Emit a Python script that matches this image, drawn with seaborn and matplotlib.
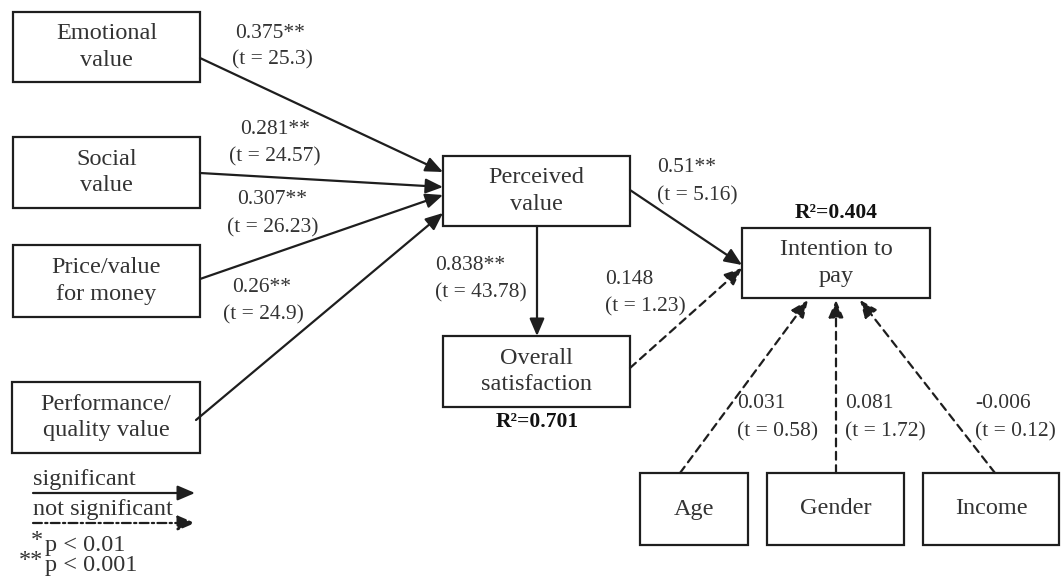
import matplotlib
matplotlib.use('Agg')
import matplotlib.pyplot as plt
import matplotlib.patches as mpatches
import seaborn as sns

sns.set_theme(style='white')
plt.rcParams['font.family'] = ['Liberation Serif', 'DejaVu Serif']

# --- data -------------------------------------------------------------
drivers = ['Emotional\nvalue', 'Social\nvalue', 'Price/value\nfor money', 'Performance/\nquality value']
driver_beta = ['0.375**', '0.281**', '0.307**', '0.26**']
driver_t = ['25.3', '24.57', '26.23', '24.9']

mediator = 'Perceived\nvalue'
satisfaction = 'Overall\nsatisfaction'
outcome = 'Intention to\npay'
controls = ['Age', 'Gender', 'Income']
control_beta = ['0.031', '0.081', '-0.006']
control_t = ['0.58', '1.72', '0.12']

pv_os_beta, pv_os_t = '0.838**', '43.78'
pv_ip_beta, pv_ip_t = '0.51**', '5.16'
os_ip_beta, os_ip_t = '0.148', '1.23'
r2_os = '0.701'
r2_ip = '0.404'

# --- layout (pixel space of the figure) -------------------------------
boxes = {
    drivers[0]: (13, 12, 200, 82),
    drivers[1]: (13, 137, 200, 208),
    drivers[2]: (13, 245, 200, 317),
    drivers[3]: (12, 382, 200, 453),
    mediator: (443, 156, 630, 226),
    satisfaction: (443, 336, 630, 407),
    outcome: (742, 228, 930, 298),
    controls[0]: (640, 473, 748, 545),
    controls[1]: (767, 473, 904, 545),
    controls[2]: (923, 473, 1059, 545),
}
driver_start = [(200, 58), (200, 173), (200, 279), (196, 420)]
driver_end = [(443, 172), (443, 187), (443, 195), (443, 213)]
driver_lab = [(270, 33, 272, 60), (275, 130, 275, 157), (272, 200, 273, 228), (262, 287, 263, 315)]
control_start = [(680, 473), (836, 473), (995, 473)]
control_end = [(808, 300), (836, 300), (860, 300)]
control_lab = [737, 845, 975]

TXT = '#333333'
LN = '#1e1e1e'
BOX_FS = 17.5
LAB_FS = 15.5

fig = plt.figure(figsize=(10.61, 5.77), dpi=100)
ax = fig.add_axes([0, 0, 1, 1])
ax.set_xlim(0, 1061)
ax.set_ylim(577, 0)
ax.set_axis_off()

for name, (x0, y0, x1, y1) in boxes.items():
    ax.add_patch(mpatches.Rectangle((x0, y0), x1 - x0, y1 - y0, fill=False,
                                    edgecolor=LN, linewidth=1.6))
    ax.text((x0 + x1) / 2, (y0 + y1) / 2, name, ha='center', va='center',
            fontsize=BOX_FS, color=TXT, linespacing=1.35)


def arrow(p0, p1, dashed=False, style='-'):
    ls = (0, (3.5, 2.5)) if dashed else style
    ax.annotate('', xy=p1, xytext=p0,
                arrowprops=dict(arrowstyle='-|>,head_length=0.7,head_width=0.3',
                                color=LN, lw=1.6, linestyle=ls,
                                shrinkA=0, shrinkB=0, mutation_scale=15))


def label(x, y, s, ha='center'):
    ax.text(x, y, s, ha=ha, va='center', fontsize=LAB_FS, color=TXT)


for i in range(len(drivers)):
    arrow(driver_start[i], driver_end[i])
    bx, by, tx, ty = driver_lab[i]
    label(bx, by, driver_beta[i])
    label(tx, ty, '(t = %s)' % driver_t[i])

arrow((537, 226), (537, 336))
label(435, 265, pv_os_beta, ha='left')
label(435, 293, '(t = %s)' % pv_os_t, ha='left')

arrow((630, 190), (742, 265))
label(657, 168, pv_ip_beta, ha='left')
label(657, 196, '(t = %s)' % pv_ip_t, ha='left')

arrow((630, 368), (742, 268), dashed=True)
label(605, 280, os_ip_beta, ha='left')
label(605, 307, '(t = %s)' % os_ip_t, ha='left')

for i in range(len(controls)):
    arrow(control_start[i], control_end[i], dashed=True)
    label(control_lab[i], 404, control_beta[i], ha='left')
    label(control_lab[i], 432, '(t = %s)' % control_t[i], ha='left')

ax.text(537, 422, 'R\u00b2=' + r2_os, ha='center', va='center',
        fontsize=LAB_FS, color='#111111', fontweight='bold')
ax.text(836, 213, 'R\u00b2=' + r2_ip, ha='center', va='center',
        fontsize=LAB_FS, color='#111111', fontweight='bold')

# legend
ax.text(33, 480, 'significant', ha='left', va='center', fontsize=BOX_FS, color=TXT)
arrow((33, 493), (195, 493))
ax.text(33, 509, 'not significant', ha='left', va='center', fontsize=BOX_FS, color=TXT)
arrow((33, 523), (195, 523), style=(0, (4, 1.5, 1, 1.5)))
ax.text(43, 541, '*', ha='right', va='center', fontsize=BOX_FS, color=TXT)
ax.text(45, 545, 'p < 0.01', ha='left', va='center', fontsize=BOX_FS, color=TXT)
ax.text(43, 561, '**', ha='right', va='center', fontsize=BOX_FS, color=TXT)
ax.text(45, 565, 'p < 0.001', ha='left', va='center', fontsize=BOX_FS, color=TXT)

fig.savefig('out.png', dpi=100, facecolor='white')
